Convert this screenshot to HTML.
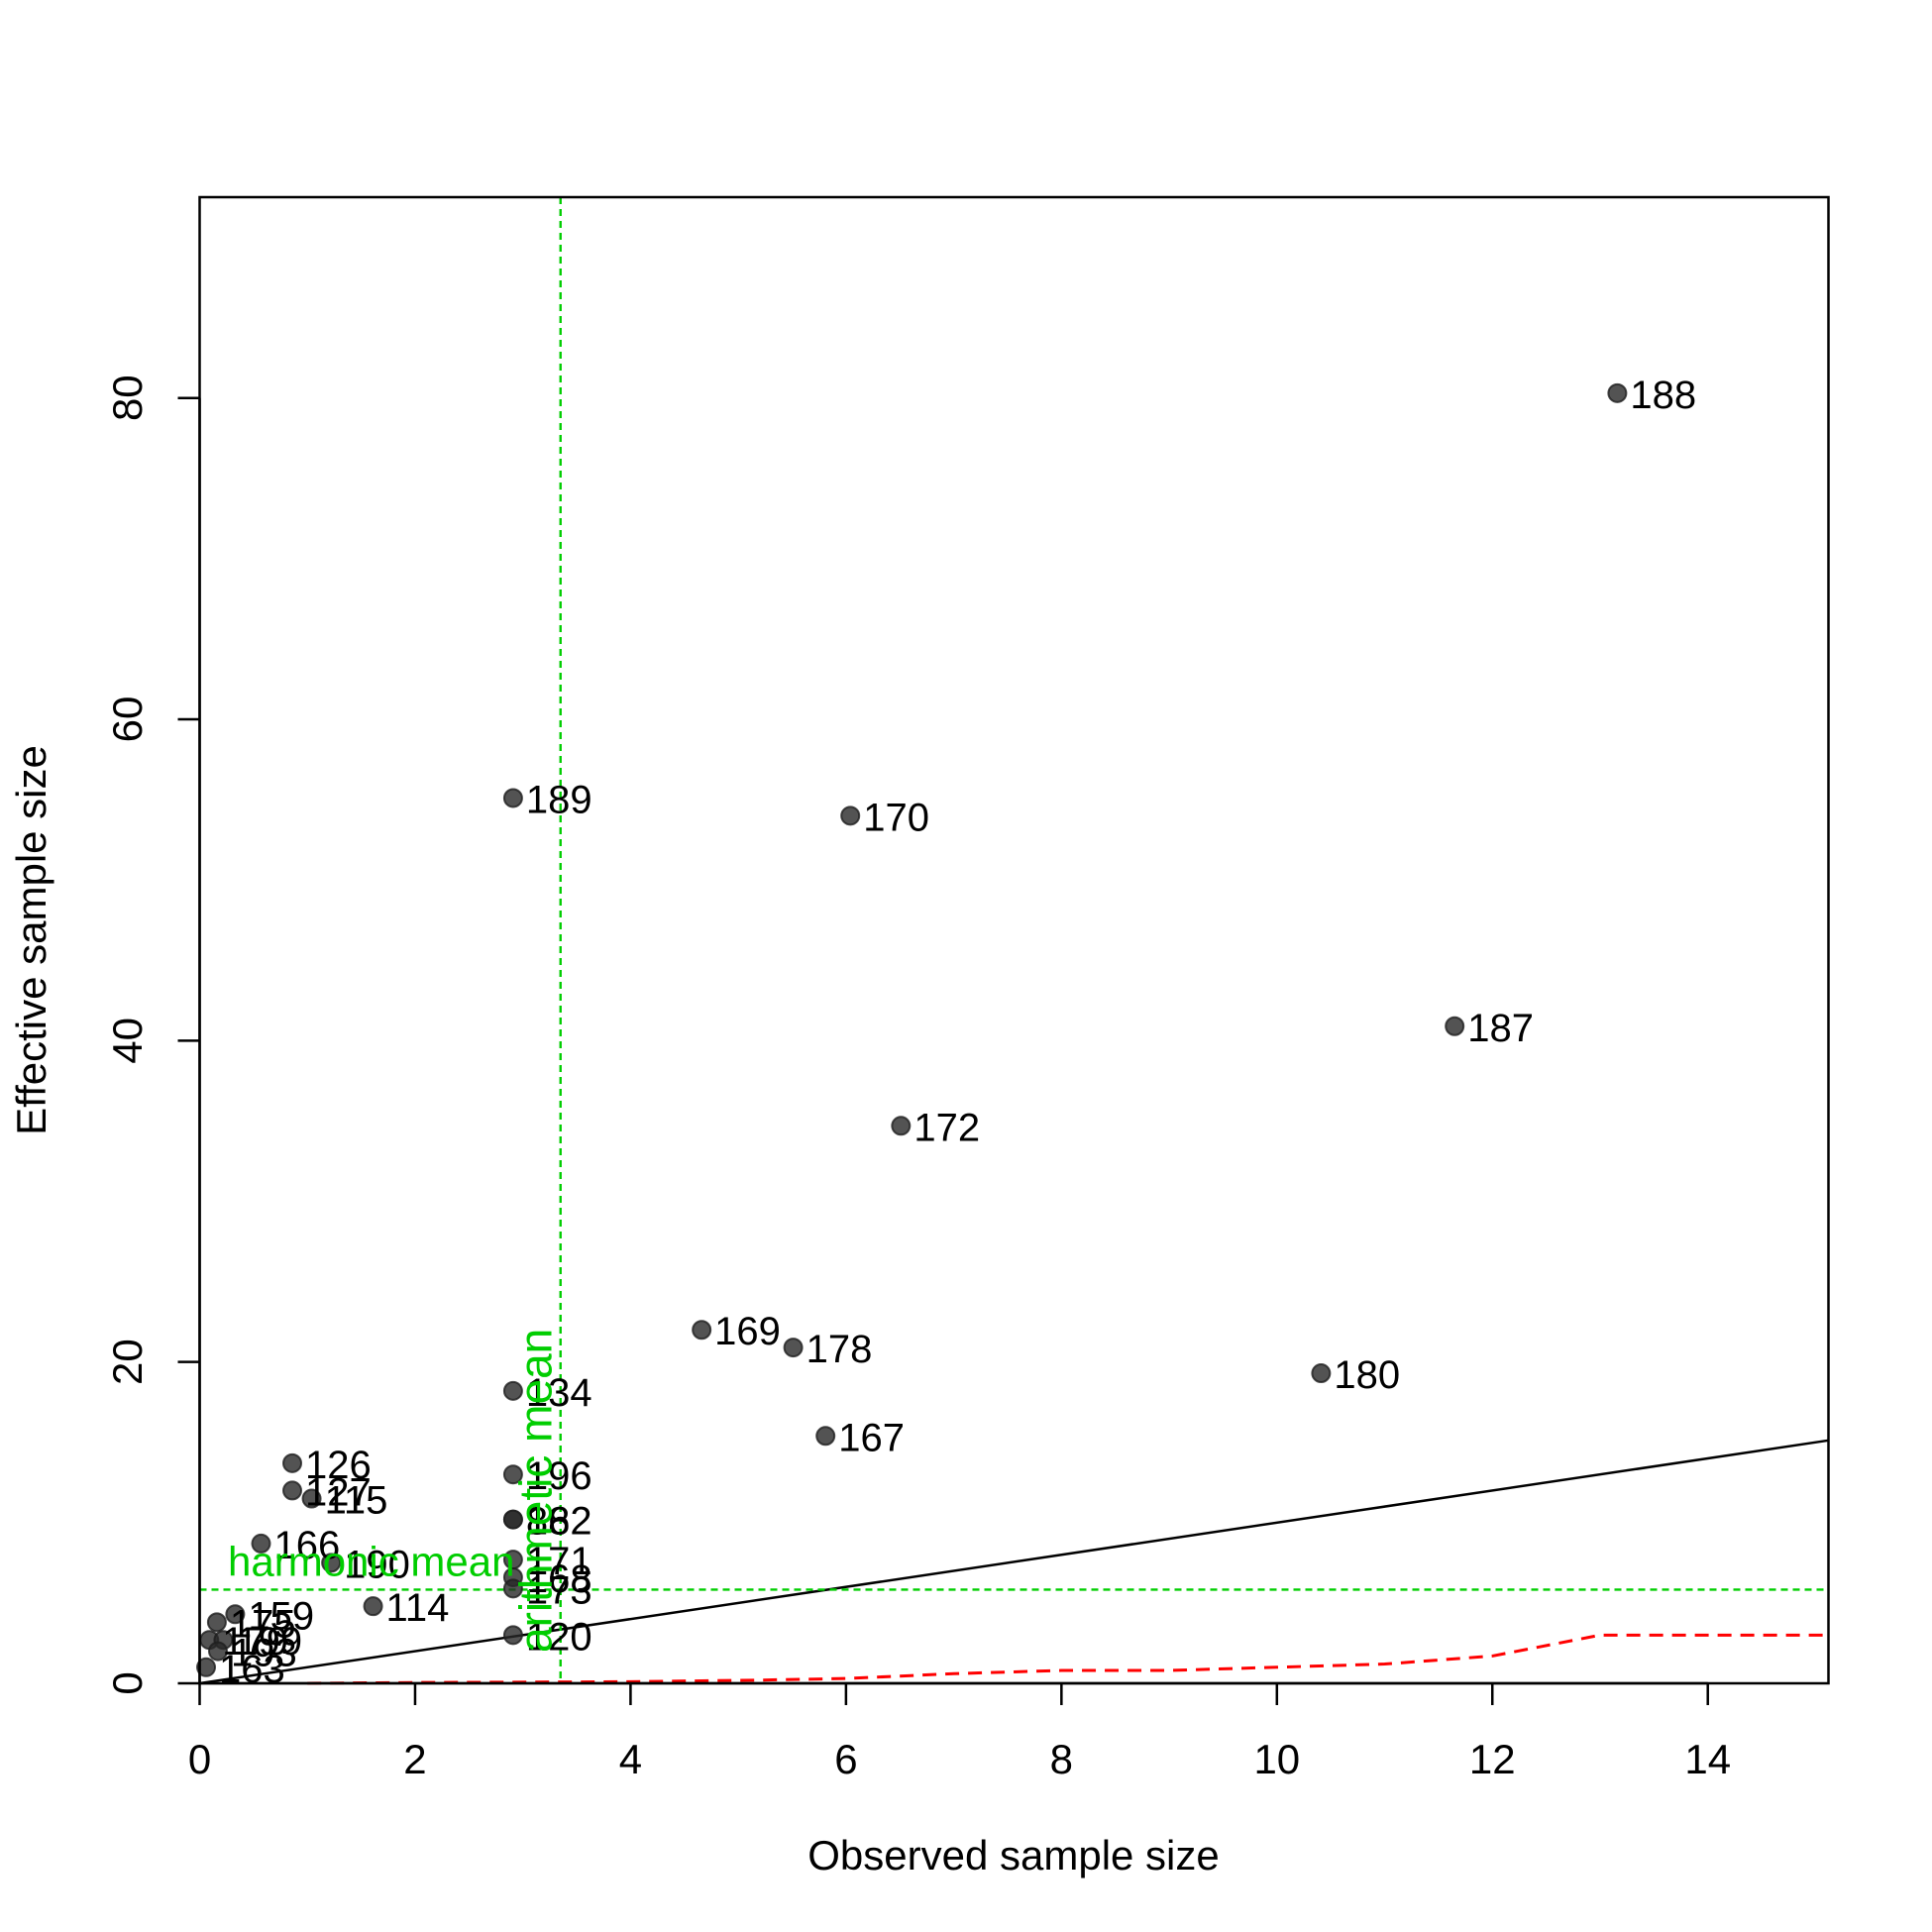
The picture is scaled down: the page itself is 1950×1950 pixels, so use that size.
<!DOCTYPE html>
<html><head><meta charset="utf-8"><style>
html,body{margin:0;padding:0;background:#fff}
svg{display:block;font-family:"Liberation Sans",Arial,sans-serif}
</style></head><body>
<svg id="chart" width="1950" height="1950" viewBox="0 0 1950 1950" xmlns="http://www.w3.org/2000/svg">
<rect width="1950" height="1950" fill="#fff"/>
<g id="marks"></g>
<rect x="201.5" y="199" width="1644" height="1500" fill="none" stroke="#000" stroke-width="2.5"/>
<g id="axes"></g>
<text x="1023" y="1887" font-size="42" text-anchor="middle">Observed sample size</text>
<text transform="translate(46,949) rotate(-90)" font-size="42" text-anchor="middle">Effective sample size</text>
</svg>
<script>
const xTicks=[0,2,4,6,8,10,12,14];
const yTicks=[0,20,40,60,80];
const pointLabels=["188","189","170","187","172","169","178","180","167","134","126","127","115","196","182","86","166","190","171","168","173","114","120","159","175","179","199","193","163"];
const obsSize=[13.16,2.91,6.04,11.65,6.51,4.66,5.51,10.41,5.81,2.91,0.86,0.86,1.04,2.91,2.91,2.91,0.57,1.22,2.91,2.91,2.91,1.61,2.91,0.33,0.16,0.09,0.22,0.17,0.06];
const effSize=[80.3,55.1,54.0,40.9,34.7,22.0,20.9,19.3,15.4,18.2,13.7,12.0,11.5,13.0,10.2,10.2,8.7,7.5,7.7,6.6,5.9,4.8,3.0,4.3,3.8,2.7,2.7,2.0,1.0];
const redX=[1,2,4,5.2,6,7,8,9,10,11,12,13,15.12];
const redY=[0,0.05,0.1,0.2,0.3,0.6,0.8,0.8,1.0,1.2,1.7,3.0,3.0];
const arithMean=[3.35];
const harmMean=[5.83];
const xMin=0,xMax=15.12,yMin=0,yMax=92.5;
const L=201.5,R=1845.5,T=199,B=1699;
const sx=v=>L+(v-xMin)/(xMax-xMin)*(R-L);
const sy=v=>B-(v-yMin)/(yMax-yMin)*(B-T);
const NS="http://www.w3.org/2000/svg";
const marks=document.getElementById('marks'),axes=document.getElementById('axes');
function mk(tag,attrs,parent){const e=document.createElementNS(NS,tag);for(const k in attrs)e.setAttribute(k,attrs[k]);parent.appendChild(e);return e;}
let e=mk('line',{x1:sx(xTicks[0]),x2:sx(xTicks[xTicks.length-1]),y1:B,y2:B,stroke:'#000','stroke-width':2.5},axes);


xTicks.forEach(t=>{
 let l=mk('line',{x1:sx(t),x2:sx(t),y1:B,y2:B+22,stroke:'#000','stroke-width':2.5},axes);
 
 
 let tx=mk('text',{x:sx(t),y:1790,'font-size':42,'text-anchor':'middle'},axes);tx.textContent=t;
 
 
});
e=mk('line',{x1:L,x2:L,y1:sy(yTicks[0]),y2:sy(yTicks[yTicks.length-1]),stroke:'#000','stroke-width':2.5},axes);


yTicks.forEach(t=>{
 let l=mk('line',{x1:L-22,x2:L,y1:sy(t),y2:sy(t),stroke:'#000','stroke-width':2.5},axes);
 
 
 let tx=mk('text',{transform:`translate(143,${sy(t)}) rotate(-90)`,'font-size':42,'text-anchor':'middle'},axes);tx.textContent=t;
 
 
});
e=mk('line',{x1:sx(0),y1:sy(0),x2:sx(xMax),y2:sy(xMax),stroke:'#000','stroke-width':2.5},marks);


e=mk('polyline',{points:redX.map((x,i)=>sx(x)+','+sy(redY[i])).join(' '),fill:'none',stroke:'#f00','stroke-width':3,'stroke-dasharray':'14,9'},marks);


e=mk('line',{x1:sx(arithMean[0]),x2:sx(arithMean[0]),y1:T,y2:B,stroke:'#00cd00','stroke-width':2.4,'stroke-dasharray':'7,5'},marks);


e=mk('line',{x1:L,x2:R,y1:sy(harmMean[0]),y2:sy(harmMean[0]),stroke:'#00cd00','stroke-width':2.4,'stroke-dasharray':'7,5'},marks);


obsSize.forEach((x,i)=>{
 let c=mk('circle',{cx:sx(x),cy:sy(effSize[i]),r:9,fill:'rgba(40,40,40,0.8)',stroke:'rgba(30,30,30,0.8)','stroke-width':2},marks);
 
 
});
obsSize.forEach((x,i)=>{
 let t=mk('text',{x:sx(x)+13,y:sy(effSize[i])+15,'font-size':40},marks);t.textContent=pointLabels[i];
 
 
});
e=mk('text',{x:230,y:sy(harmMean[0])-14,'font-size':42,fill:'#00cd00'},marks);e.textContent='harmonic mean';


e=mk('text',{transform:`translate(${sx(arithMean[0])-9},1668) rotate(-90)`,'font-size':46,fill:'#00cd00'},marks);e.textContent='arithmetic mean';


</script>
</body></html>
